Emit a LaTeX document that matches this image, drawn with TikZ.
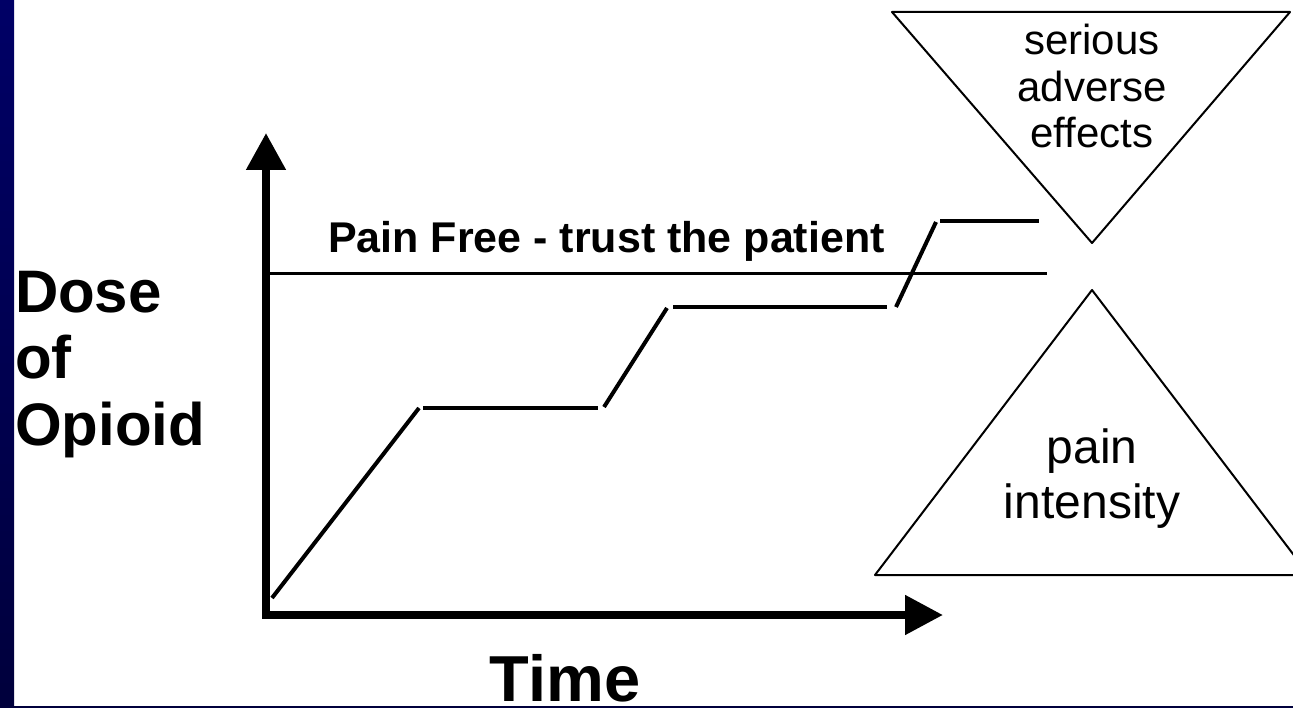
\documentclass[tikz,border=0pt]{standalone}
\usepackage{fontspec}
\setmainfont{Liberation Sans}
\usetikzlibrary{arrows.meta}
\definecolor{navytop}{HTML}{000066}
\definecolor{navybot}{HTML}{00003C}
\begin{document}
\begin{tikzpicture}[x=1pt,y=-1pt,
  axisline/.style={line width=8pt, line join=miter,
    {Triangle[length=37pt,width=38pt]}-{Triangle[length=38pt,width=38pt]}},
  stepline/.style={line width=4pt},
  freeline/.style={line width=3pt},
  triline/.style={line width=2pt, line join=round},
  lbl/.style={inner sep=0pt, outer sep=0pt}]
\useasboundingbox (0,0) rectangle (1293,708);
\fill[white] (0,0) rectangle (1293,708);
\shade[top color=navytop, bottom color=navybot] (0,0) rectangle (14,708);
\fill[navybot] (0,706) rectangle (1293,708);

% axes
\coordinate (ytip) at (266,133);
\coordinate (orig) at (266,615);
\coordinate (xtip) at (943,615);
\draw[axisline] (ytip) -- (orig) -- (xtip);

% pain free line
\coordinate (pf0) at (266,274);
\coordinate (pf1) at (1047,274);
\draw[freeline] (pf0) -- (pf1);
\node[lbl, anchor=base west, font=\fontsize{43}{50}\selectfont\bfseries] (pftext) at (328,253) {Pain Free - trust the patient};

% dose steps
\coordinate (a0) at (272,598); \coordinate (a1) at (419,408);
\coordinate (b0) at (423,408); \coordinate (b1) at (598,408);
\coordinate (c0) at (604,407); \coordinate (c1) at (667,308);
\coordinate (d0) at (673,307); \coordinate (d1) at (887,307);
\coordinate (e0) at (896,307); \coordinate (e1) at (936,222);
\coordinate (f0) at (940,221); \coordinate (f1) at (1039,221);
\draw[stepline] (a0) -- (a1);
\draw[stepline] (b0) -- (b1);
\draw[stepline] (c0) -- (c1);
\draw[stepline] (d0) -- (d1);
\draw[stepline] (e0) -- (e1);
\draw[stepline] (f0) -- (f1);

% triangles
\coordinate (t1) at (892,12); \coordinate (t2) at (1290,12); \coordinate (t3) at (1092,243);
\draw[triline] (t1) -- (t2) -- (t3) -- cycle;
\coordinate (u1) at (1092,290); \coordinate (u2) at (1309,575); \coordinate (u3) at (875,575);
\draw[triline] (u1) -- (u2) -- (u3) -- cycle;

\node[lbl, anchor=base, align=center, font=\fontsize{42}{46.5}\selectfont] (adverse) at (1092,148) {serious\\adverse\\effects};
\node[lbl, anchor=base, align=center, font=\fontsize{48}{55}\selectfont] (pain) at (1092,518) {pain\\intensity};

% axis labels
\node[lbl, anchor=base west, align=left, font=\fontsize{60}{66.5}\selectfont\bfseries] (dose) at (15,445) {Dose\\of\\Opioid};
\node[lbl, anchor=base, font=\fontsize{65}{70}\selectfont\bfseries] (time) at (565,701) {Time};
\end{tikzpicture}
\end{document}
